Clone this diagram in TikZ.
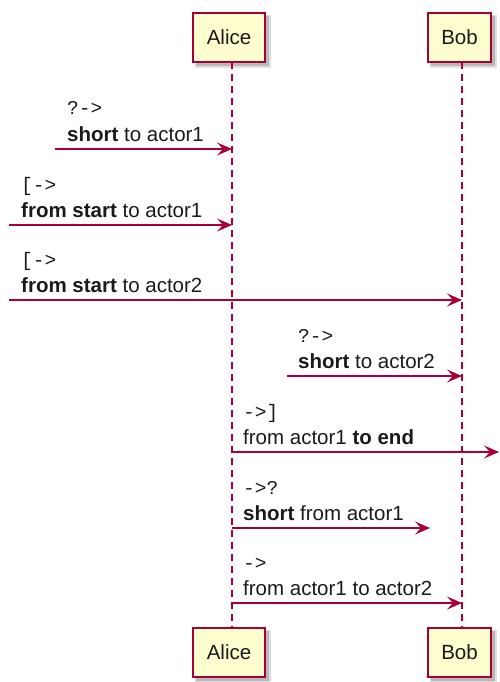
\documentclass[tikz,border=0pt]{standalone}
\usepackage{fontspec}
\setmainfont{Liberation Sans}
\setmonofont{Liberation Mono}
\usetikzlibrary{arrows.meta}
\definecolor{pcrim}{HTML}{A80036}
\definecolor{pfill}{HTML}{FEFECE}
\definecolor{ptext}{HTML}{1A1A1A}
\tikzset{
  actorbox/.style={draw=pcrim, fill=pfill, line width=1.8pt, minimum height=49pt, inner sep=0pt, text=ptext, font=\fontsize{20.5}{24}\selectfont},
  lifeline/.style={draw=pcrim, line width=1.2pt, dash pattern=on 7pt off 5pt},
  msg/.style={draw=pcrim, line width=1.5pt, -{Stealth[length=15pt,width=13pt,inset=6pt]}},
  lbl/.style={anchor=base west, inner sep=0pt, text=ptext, font=\fontsize{20.5}{24}\selectfont},
  mono/.style={anchor=base west, inner sep=0pt, text=ptext, font=\fontsize{19.5}{24}\selectfont\ttfamily},
}
\newcommand{\shadowbox}[4]{%
  \fill[black, opacity=0.12] (#1+2,#2+2) rectangle (#3+6,#4+6);
  \fill[black, opacity=0.18] (#1+3,#2+3) rectangle (#3+4,#4+4);
}
\begin{document}
\begin{tikzpicture}[x=1pt,y=-1pt]
\useasboundingbox (0,0) rectangle (499,682);
% shadows
\shadowbox{193}{13}{265}{62}
\shadowbox{428}{13}{491}{62}
\shadowbox{193}{628}{265}{677}
\shadowbox{428}{628}{491}{677}
% lifelines
\coordinate (aT) at (232,62);
\coordinate (aB) at (232,628);
\coordinate (bT) at (462,62);
\coordinate (bB) at (462,628);
\draw[lifeline] (aT) -- (aB);
\draw[lifeline] (bT) -- (bB);
% actors
\node[actorbox, minimum width=72pt] (alice) at (229,37.5) {Alice};
\node[actorbox, minimum width=63pt] (bob) at (459.5,37.5) {Bob};
\node[actorbox, minimum width=72pt] (alice2) at (229,652.5) {Alice};
\node[actorbox, minimum width=63pt] (bob2) at (459.5,652.5) {Bob};
% message 1
\coordinate (m1s) at (55,149); \coordinate (m1e) at (232,149);
\draw[msg] (m1s) -- (m1e);
\node[mono] (t1a) at (67,115) {?->};
\node[lbl] (t1b) at (67,141) {\textbf{short} to actor1};
% message 2
\coordinate (m2s) at (9,225); \coordinate (m2e) at (232,225);
\draw[msg] (m2s) -- (m2e);
\node[mono] (t2a) at (21,191) {[->};
\node[lbl] (t2b) at (21,217) {\textbf{from start} to actor1};
% message 3
\coordinate (m3s) at (9,300); \coordinate (m3e) at (462,300);
\draw[msg] (m3s) -- (m3e);
\node[mono] (t3a) at (21,266) {[->};
\node[lbl] (t3b) at (21,292) {\textbf{from start} to actor2};
% message 4
\coordinate (m4s) at (287,376); \coordinate (m4e) at (462,376);
\draw[msg] (m4s) -- (m4e);
\node[mono] (t4a) at (298,342) {?->};
\node[lbl] (t4b) at (298,368) {\textbf{short} to actor2};
% message 5
\coordinate (m5s) at (232,452); \coordinate (m5e) at (499,452);
\draw[msg] (m5s) -- (m5e);
\node[mono] (t5a) at (243,418) {->]};
\node[lbl] (t5b) at (243,444) {from actor1 \textbf{to end}};
% message 6
\coordinate (m6s) at (232,528); \coordinate (m6e) at (430,528);
\draw[msg] (m6s) -- (m6e);
\node[mono] (t6a) at (243,494) {->?};
\node[lbl] (t6b) at (243,520) {\textbf{short} from actor1};
% message 7
\coordinate (m7s) at (232,603); \coordinate (m7e) at (462,603);
\draw[msg] (m7s) -- (m7e);
\node[mono] (t7a) at (243,569) {->};
\node[lbl] (t7b) at (243,595) {from actor1 to actor2};
\end{tikzpicture}
\end{document}
